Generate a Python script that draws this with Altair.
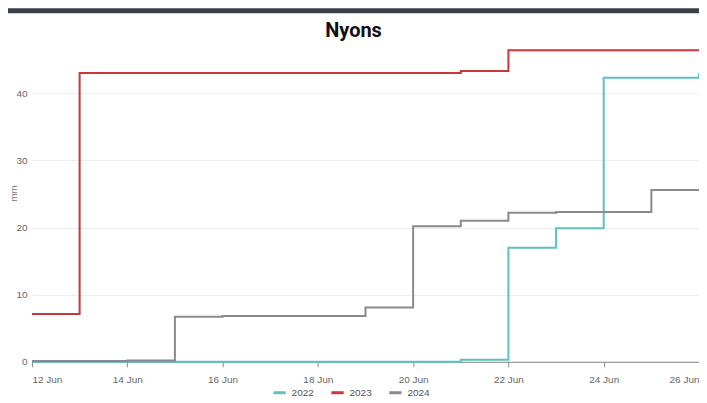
import altair as alt
import pandas as pd

days = [12, 13, 14, 15, 16, 17, 18, 19, 20, 21, 22, 23, 24, 25, 26]
rain_2022 = [0.0, 0.0, 0.0, 0.0, 0.0, 0.0, 0.0, 0.0, 0.0, 0.3, 17.0, 19.9, 42.3, 42.3, 43.0]
rain_2023 = [7.1, 43.0, 43.0, 43.0, 43.0, 43.0, 43.0, 43.0, 43.0, 43.3, 46.4, 46.4, 46.4, 46.4, 46.4]
rain_2024 = [0.1, 0.1, 0.2, 6.7, 6.8, 6.8, 6.8, 8.1, 20.2, 21.0, 22.2, 22.3, 22.3, 25.6, 25.6]
years = ["2022", "2023", "2024"]
colors = ["#5fc0c2", "#c9363b", "#8a8a8a"]
tick_days = [12, 14, 16, 18, 20, 22, 24, 26]
y_ticks = [0, 10, 20, 30, 40]

rows = []
for yr, vals in zip(years, [rain_2022, rain_2023, rain_2024]):
    for d, v in zip(days, vals):
        rows.append({"day": d, "mm": v, "year": yr})
df = pd.DataFrame(rows)

font = "Liberation Sans"

lines = alt.Chart(df).mark_line(interpolate="step-after", strokeWidth=2, clip=False).encode(
    x=alt.X("day:Q", scale=alt.Scale(domain=[12, 26], nice=False, zero=False),
            axis=alt.Axis(values=tick_days, labelExpr="datum.value + ' Jun'", title=None,
                          grid=False, domainColor="#888", tickColor="#888", tickSize=5,
                          labelColor="#666", labelFontSize=10, labelFont=font, labelPadding=8)),
    y=alt.Y("mm:Q", scale=alt.Scale(domain=[0, 46.4], nice=False),
            axis=alt.Axis(values=y_ticks, title="mm", titleFontWeight="normal", titleFontSize=10,
                          titleColor="#777", titleFont=font, domain=False, ticks=False,
                          titleX=-18, titleY=143, titleAngle=-90, titleAlign="center",
                          titleBaseline="middle",
                          gridColor="#ececec", labelColor="#666", labelFontSize=10, labelFont=font,
                          labelPadding=5)),
    color=alt.Color("year:N", scale=alt.Scale(domain=years, range=colors),
                    legend=alt.Legend(title=None, orient="none", direction="horizontal",
                                      legendX=240, legendY=335, symbolType="stroke",
                                      symbolSize=150, symbolStrokeWidth=3, labelFontSize=10,
                                      labelFont=font, labelColor="#555", columnPadding=10,
                                      labelOffset=4)),
)

bar = alt.Chart(pd.DataFrame({"k": [0]})).mark_rect(color="#3b3f48", clip=False).encode(
    x=alt.value(-24), x2=alt.value(676), y=alt.value(-42), y2=alt.value(-37)
)

chart = alt.layer(bar, lines).properties(
    width=668, height=312,
    title=alt.TitleParams("Nyons", font="Roboto", fontSize=20, fontWeight="bold",
                          color="#111", anchor="middle", frame="group", dx=-12, offset=-33),
    padding={"left": 24, "top": 42, "right": 0, "bottom": 38},
    autosize=alt.AutoSizeParams(type="none"),
).configure_view(stroke=None)

chart.save("out.html", embed_options={"renderer": "svg", "actions": False})
